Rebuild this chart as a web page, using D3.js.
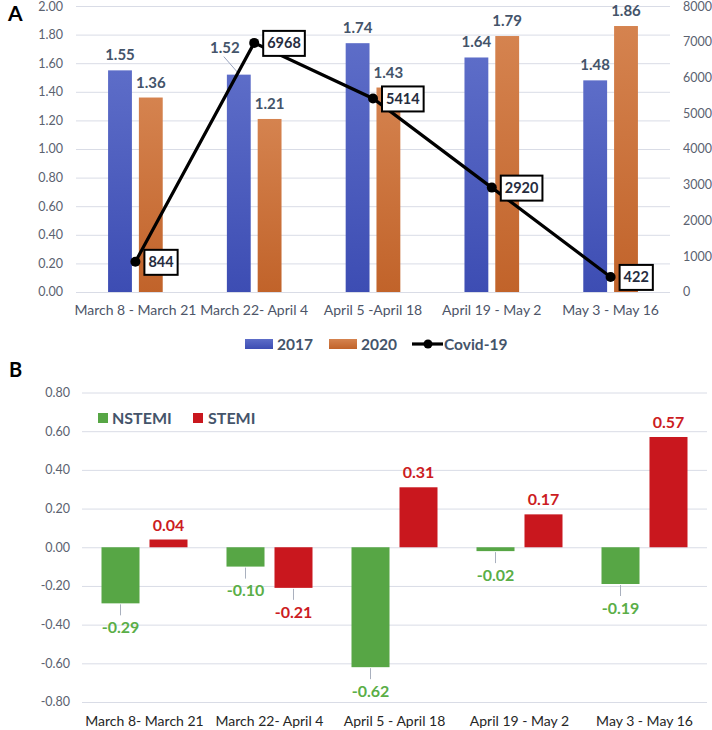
<!DOCTYPE html>
<html><head><meta charset="utf-8">
<script src="https://cdn.jsdelivr.net/npm/d3@7"></script>
<style>body{margin:0;background:#fff} svg{display:block} text{font-family:Lato,'Open Sans',sans-serif}</style>
</head><body><svg id="c" width="712" height="730"></svg>
<script>
// ---------- data ----------
const periodsA = ["March 8 - March 21","March 22- April 4","April 5 -April 18","April 19 - May 2","May 3 - May 16"];
const rate2017 = [1.55,1.52,1.74,1.64,1.48];
const rate2020 = [1.36,1.21,1.43,1.79,1.86];
const covidCases = [844,6968,5414,2920,422];
const ticksLeftA = [0,0.2,0.4,0.6,0.8,1.0,1.2,1.4,1.6,1.8,2.0];
const ticksRightA = [0,1000,2000,3000,4000,5000,6000,7000,8000];
const seriesA = ["2017","2020"];

const periodsB = ["March 8- March 21","March 22- April 4","April 5 - April 18","April 19 - May 2","May 3 - May 16"];
const nstemi = [-0.29,-0.10,-0.62,-0.02,-0.19];
const stemi = [0.04,-0.21,0.31,0.17,0.57];
const ticksB = [-0.8,-0.6,-0.4,-0.2,0,0.2,0.4,0.6,0.8];
const seriesB = ["NSTEMI","STEMI"];

// ---------- styles ----------
const gridCol = "#d9dce6", tickCol = "#5b6270", lblCol = "#44546a";
const svg = d3.select("#c");
const defs = svg.append("defs");
function grad(id, top, bot){
  const g = defs.append("linearGradient").attr("id",id).attr("x1",0).attr("y1",0).attr("x2",0).attr("y2",1);
  g.append("stop").attr("offset","0%").attr("stop-color",top);
  g.append("stop").attr("offset","100%").attr("stop-color",bot);
}
grad("gBlue","#5d6dc8","#3d4db3");
grad("gOrange","#d5834f","#c1632a");
const fillA = {"2017":"url(#gBlue)","2020":"url(#gOrange)"};

// ---------- Panel A ----------
const yL = d3.scaleLinear().domain([0,2]).range([292,6]);
const yR = d3.scaleLinear().domain([0,8000]).range([292,6]);
const xA = d3.scaleBand().domain(periodsA).range([76,670]).paddingInner(0.54).paddingOuter(0.27);
const xA1 = d3.scaleBand().domain(seriesA).range([0,xA.bandwidth()]).paddingInner(0.226);

const gA = svg.append("g");
gA.selectAll("line.grid").data(ticksLeftA).join("line")
  .attr("x1",76).attr("x2",670).attr("y1",d=>yL(d)+0.5).attr("y2",d=>yL(d)+0.5)
  .attr("stroke",gridCol).attr("stroke-width",1);
gA.selectAll("text.tl").data(ticksLeftA).join("text")
  .attr("x",63).attr("y",d=>Math.max(yL(d),7)).attr("dy","0.35em").attr("text-anchor","end")
  .attr("font-size",12.5).attr("fill",tickCol).text(d=>d3.format(".2f")(d));
gA.selectAll("text.tr").data(ticksRightA).join("text")
  .attr("x",683).attr("y",d=>Math.max(yR(d),7)).attr("dy","0.35em").attr("text-anchor","start")
  .attr("font-size",12.5).attr("fill",tickCol).text(d=>d);
gA.selectAll("text.cat").data(periodsA).join("text")
  .attr("x",d=>xA(d)+xA.bandwidth()/2).attr("y",315).attr("text-anchor","middle")
  .attr("font-size",14).attr("fill","#4d5568").text(d=>d);

const barsA = [];
periodsA.forEach((p,i)=>{
  barsA.push({p, s:"2017", v:rate2017[i]});
  barsA.push({p, s:"2020", v:rate2020[i]});
});
gA.selectAll("rect.bar").data(barsA).join("rect")
  .attr("x",d=>xA(d.p)+xA1(d.s)).attr("width",xA1.bandwidth())
  .attr("y",d=>yL(d.v)).attr("height",d=>yL(0)-yL(d.v))
  .attr("fill",d=>fillA[d.s]);

// value labels (one nudged with leader line, as in original)
const nudgeA = {"2017|March 22- April 4":[-14,-12]};
barsA.forEach(d=>{
  const cx = xA(d.p)+xA1(d.s)+xA1.bandwidth()/2;
  const top = yL(d.v);
  const n = nudgeA[d.s+"|"+d.p] || [0,0];
  if(n[0]||n[1]){
    gA.append("line").attr("x1",cx+n[0]-1).attr("y1",top-10+n[1]+4).attr("x2",cx-1).attr("y2",top-2)
      .attr("stroke","#9aa5c0").attr("stroke-width",1);
  }
  gA.append("text").attr("x",cx+n[0]).attr("y",top-10+n[1]).attr("text-anchor","middle")
    .attr("font-size",15).attr("font-weight","bold").attr("fill",lblCol).text(d3.format(".2f")(d.v));
});

// covid line
const ptsA = periodsA.map((p,i)=>({x:xA(p)+xA.bandwidth()/2, y:yR(covidCases[i]), v:covidCases[i]}));
gA.append("path").datum(ptsA).attr("d",d3.line().x(d=>d.x).y(d=>d.y))
  .attr("fill","none").attr("stroke","#000").attr("stroke-width",3.2);
gA.selectAll("circle.pt").data(ptsA).join("circle")
  .attr("cx",d=>d.x).attr("cy",d=>d.y).attr("r",5).attr("fill","#000");
ptsA.forEach(d=>{
  const g = gA.append("g");
  const r = g.append("rect").attr("fill","#fff").attr("stroke","#000").attr("stroke-width",2);
  const t = g.append("text").attr("x",d.x+13).attr("y",d.y).attr("dy","0.36em")
    .attr("font-size",14.5).attr("font-weight","bold").attr("fill","#262c3e").text(d.v);
  const w = t.node().getComputedTextLength();
  r.attr("x",d.x+9).attr("y",d.y-12).attr("width",w+8).attr("height",25);
});

// legend A
const legA = svg.append("g");
legA.append("rect").attr("x",245).attr("y",339).attr("width",28).attr("height",10).attr("fill","url(#gBlue)");
legA.append("text").attr("x",277).attr("y",344).attr("dy","0.36em").attr("font-size",15.5).attr("font-weight","bold").attr("fill",lblCol).text(seriesA[0]);
legA.append("rect").attr("x",329).attr("y",339).attr("width",28).attr("height",10).attr("fill","url(#gOrange)");
legA.append("text").attr("x",361).attr("y",344).attr("dy","0.36em").attr("font-size",15.5).attr("font-weight","bold").attr("fill",lblCol).text(seriesA[1]);
legA.append("line").attr("x1",412).attr("x2",443).attr("y1",344).attr("y2",344).attr("stroke","#000").attr("stroke-width",3.2);
legA.append("circle").attr("cx",428).attr("cy",344).attr("r",4.5).attr("fill","#000");
legA.append("text").attr("x",444).attr("y",344).attr("dy","0.36em").attr("font-size",15.5).attr("font-weight","bold").attr("fill",lblCol).text("Covid-19");

// panel letters
svg.append("text").attr("x",8).attr("y",21).attr("font-family","'Liberation Sans',Arial,sans-serif").attr("font-weight","bold").attr("font-size",21).attr("fill","#000").text("A");
svg.append("text").attr("x",9).attr("y",377).attr("font-family","'Liberation Sans',Arial,sans-serif").attr("font-weight","bold").attr("font-size",20).attr("fill","#000").text("B");

// ---------- Panel B ----------
const yB = d3.scaleLinear().domain([-0.8,0.8]).range([702,392.5]);
const xB = d3.scaleBand().domain(periodsB).range([82,707]).paddingInner(0.312).paddingOuter(0.156);
const xB1 = d3.scaleBand().domain(seriesB).range([0,xB.bandwidth()]).paddingInner(0.208);
const colB = {"NSTEMI":"#57a645","STEMI":"#c9171e"};
const txtB = {"NSTEMI":"#5aae47","STEMI":"#cc1c22"};

const gB = svg.append("g");
gB.selectAll("line.grid").data(ticksB).join("line")
  .attr("x1",82).attr("x2",707).attr("y1",d=>yB(d)+0.5).attr("y2",d=>yB(d)+0.5)
  .attr("stroke",gridCol).attr("stroke-width",1);
gB.selectAll("text.tl").data(ticksB).join("text")
  .attr("x",70).attr("y",d=>yB(d)).attr("dy","0.35em").attr("text-anchor","end")
  .attr("font-size",12.5).attr("fill",tickCol).text(d=>d3.format(".2f")(d).replace("−","-"));
gB.selectAll("text.cat").data(periodsB).join("text")
  .attr("x",d=>xB(d)+xB.bandwidth()/2).attr("y",726).attr("text-anchor","middle")
  .attr("font-size",14).attr("fill","#262626").text(d=>d);

const barsB = [];
periodsB.forEach((p,i)=>{
  barsB.push({p, s:"NSTEMI", v:nstemi[i]});
  barsB.push({p, s:"STEMI", v:stemi[i]});
});
gB.selectAll("rect.bar").data(barsB).join("rect")
  .attr("x",d=>xB(d.p)+xB1(d.s)).attr("width",xB1.bandwidth())
  .attr("y",d=>Math.min(yB(0),yB(d.v))).attr("height",d=>Math.abs(yB(d.v)-yB(0)))
  .attr("fill",d=>colB[d.s]);
barsB.forEach(d=>{
  const cx = xB(d.p)+xB1(d.s)+xB1.bandwidth()/2;
  const end = yB(d.v);
  if(d.v>=0){
    gB.append("text").attr("x",cx).attr("y",end-9).attr("text-anchor","middle")
      .attr("font-size",16).attr("font-weight","bold").attr("fill",txtB[d.s]).text(d3.format(".2f")(d.v));
  } else {
    gB.append("line").attr("x1",cx).attr("x2",cx).attr("y1",end+1).attr("y2",end+12)
      .attr("stroke","#a9b0be").attr("stroke-width",1);
    gB.append("text").attr("x",cx).attr("y",end+24).attr("dy","0.36em").attr("text-anchor","middle")
      .attr("font-size",16).attr("font-weight","bold").attr("fill",txtB[d.s]).text(d3.format(".2f")(d.v).replace("−","-"));
  }
});

// legend B
const legB = svg.append("g");
legB.append("rect").attr("x",98).attr("y",413).attr("width",10).attr("height",10).attr("fill",colB.NSTEMI);
legB.append("text").attr("x",112).attr("y",418).attr("dy","0.36em").attr("font-size",16).attr("font-weight","bold").attr("fill",lblCol).text(seriesB[0]);
legB.append("rect").attr("x",193).attr("y",413).attr("width",10).attr("height",10).attr("fill",colB.STEMI);
legB.append("text").attr("x",208).attr("y",418).attr("dy","0.36em").attr("font-size",16).attr("font-weight","bold").attr("fill",lblCol).text(seriesB[1]);
</script></body></html>
